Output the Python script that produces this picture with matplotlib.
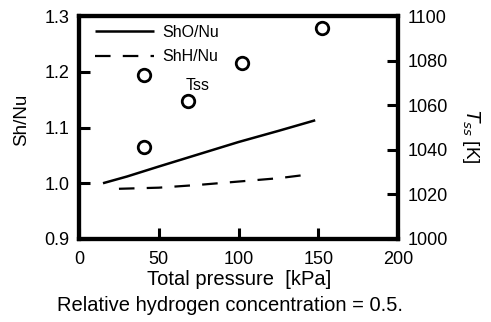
import matplotlib
matplotlib.use("Agg")
import matplotlib.pyplot as plt
from matplotlib.lines import Line2D

plt.rcParams['font.family'] = ['Liberation Sans', 'DejaVu Sans']

# Data
sho_x = [15, 30, 50, 75, 100, 125, 148]
sho_y = [1.000, 1.012, 1.030, 1.052, 1.074, 1.094, 1.113]
shh_x = [25, 50, 75, 100, 125, 142]
shh_y = [0.990, 0.992, 0.997, 1.003, 1.009, 1.015]
tss_x = [41, 41, 68, 102, 152]
tss_y = [1073.5, 1041.3, 1062.0, 1079.0, 1094.6]

x_ticks = [0, 50, 100, 150, 200]
y_ticks = [0.9, 1.0, 1.1, 1.2, 1.3]
y2_ticks = [1000, 1020, 1040, 1060, 1080, 1100]

fig = plt.figure(figsize=(4.91, 3.22), dpi=100)
ax = fig.add_axes([0.161, 0.258, 0.650, 0.692])
ax2 = ax.twinx()

l1, = ax.plot(sho_x, sho_y, color='black', lw=1.8, solid_capstyle='butt')
l2, = ax.plot(shh_x, shh_y, color='black', lw=1.6, dashes=(7, 5.5))
ax2.plot(tss_x, tss_y, linestyle='none', marker='o', ms=9, mfc='white',
         mec='black', mew=2.0)

ax.set_xlim(0, 200)
ax.set_ylim(0.9, 1.3)
ax2.set_ylim(1000, 1100)
ax.set_xticks(x_ticks)
ax.set_yticks(y_ticks)
ax2.set_yticks(y2_ticks)
ax.set_yticklabels([f"{v:.1f}" for v in y_ticks])

for a in (ax, ax2):
    for s in a.spines.values():
        s.set_linewidth(3)
    a.tick_params(direction='in', length=8, width=2.2, labelsize=13, pad=7)
ax.tick_params(axis='x', pad=9)

ax.set_xlabel("Total pressure  [kPa]", fontsize=14.5, labelpad=1)
ax.set_ylabel("Sh/Nu", fontsize=13.5, va='center', ha='center')
ax.yaxis.set_label_coords(-0.179, 0.536)
ax2.set_ylabel("$T_{ss}$ [K]", fontsize=13.5, rotation=270, va='center', ha='center')
ax2.yaxis.set_label_coords(1.229, 0.462)

leg = ax.legend([l1, l2], ["ShO/Nu", "ShH/Nu"], loc='upper left', frameon=False,
                fontsize=11.5, handlelength=3.7, handletextpad=0.5,
                borderaxespad=0.0, borderpad=0.3, labelspacing=0.6,
                bbox_to_anchor=(0.035, 0.982))
ax.text(0.335, 0.69, "Tss", transform=ax.transAxes, fontsize=11.5,
        ha='left', va='center')

fig.text(0.468, 0.052, "Relative hydrogen concentration = 0.5.", fontsize=14.5,
         ha='center', va='center')

fig.savefig("out.png", dpi=100)
